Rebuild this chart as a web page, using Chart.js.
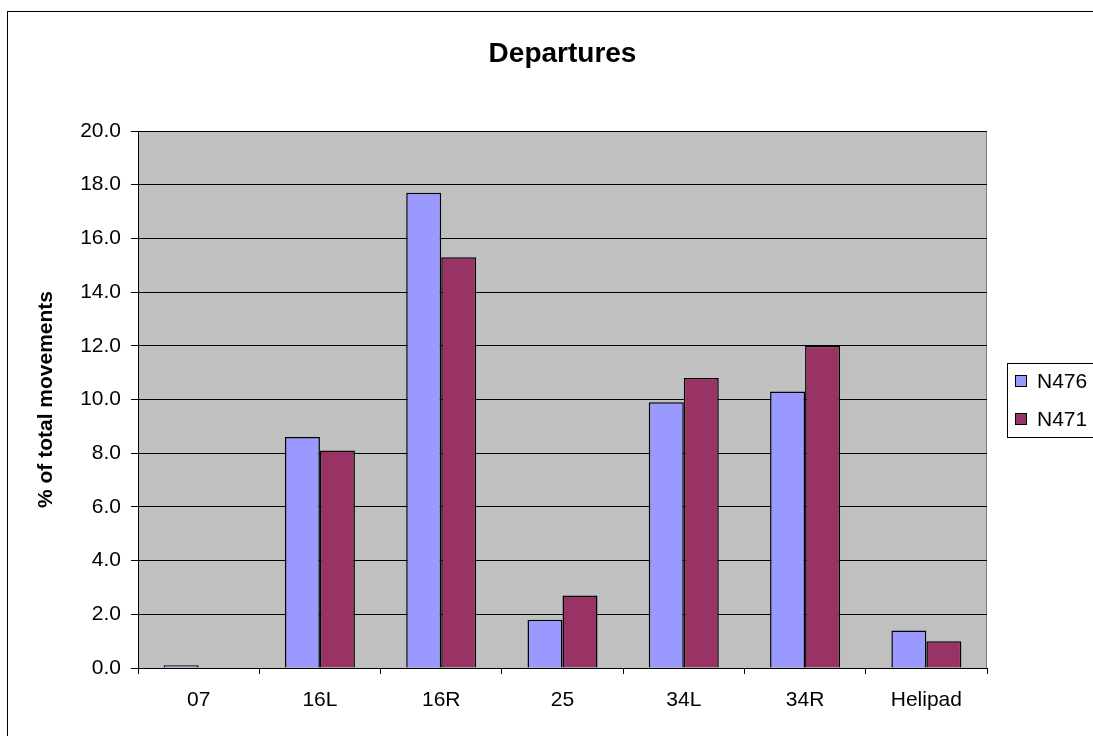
<!DOCTYPE html>
<html>
<head>
<meta charset="utf-8">
<script src="https://cdn.jsdelivr.net/npm/chart.js@4/dist/chart.umd.min.js"></script>
<style>
  html, body { margin: 0; padding: 0; background: #fff; overflow: hidden; }
  #wrap { width: 1093px; height: 736px; position: relative; }
</style>
</head>
<body>
<div id="wrap"><canvas id="chart" width="1093" height="736"></canvas></div>
<script>
// datos
const categories = ['07', '16L', '16R', '25', '34L', '34R', 'Helipad'];
const n476 = [0.1, 8.6, 17.7, 1.8, 9.9, 10.3, 1.4];
const n471 = [0, 8.1, 15.3, 2.7, 10.8, 12.0, 1.0];
const yTicks = { min: 0, max: 20, step: 2 };
const chartTitle = 'Departures';

const FONT = "'Liberation Sans', Arial, sans-serif";

// fondo gris del área de trazado, marco exterior, título centrado y leyenda con recuadro
const excelLook = {
    id: 'excelLook',
    beforeDraw(chart) {
        const { ctx, chartArea: a } = chart;
        ctx.save();
        ctx.fillStyle = '#fff';
        ctx.fillRect(0, 0, chart.width, chart.height);
        ctx.strokeStyle = '#000';
        ctx.lineWidth = 1;
        ctx.strokeRect(7.5, 11.5, 2000, 2000);
        ctx.fillStyle = '#C0C0C0';
        ctx.fillRect(a.left, a.top, a.right - a.left, a.bottom - a.top);
        ctx.strokeStyle = '#808080';
        ctx.strokeRect(a.left + 0.5, a.top + 0.5, a.right - a.left - 1, a.bottom - a.top);
        ctx.restore();
    },
    afterDraw(chart) {
        const { ctx, chartArea: a } = chart;
        ctx.save();
        // título
        ctx.fillStyle = '#000';
        ctx.font = 'bold 28px ' + FONT;
        ctx.textAlign = 'center';
        ctx.textBaseline = 'middle';
        ctx.fillText(chartTitle, (a.left + a.right) / 2, 54);
        // leyenda
        ctx.textAlign = 'left';
        ctx.strokeStyle = '#000';
        ctx.lineWidth = 1;
        ctx.strokeRect(1007.5, 363.5, 200, 74);
        ctx.font = '21px ' + FONT;
        chart.data.datasets.forEach((ds, i) => {
            const y = 381 + i * 38;
            ctx.fillStyle = ds.backgroundColor;
            ctx.fillRect(1015.5, y - 5.5, 11, 11);
            ctx.strokeRect(1015.5, y - 5.5, 11, 11);
            ctx.fillStyle = '#000';
            ctx.fillText(ds.label, 1037, y + 1);
        });
        ctx.restore();
    }
};

new Chart(document.getElementById('chart'), {
    type: 'bar',
    data: {
        labels: categories,
        datasets: [
            { label: 'N476', data: n476, backgroundColor: '#9999FF', borderColor: '#000', borderWidth: 1.5 },
            { label: 'N471', data: n471, backgroundColor: '#993366', borderColor: '#000', borderWidth: 1.5 }
        ]
    },
    options: {
        responsive: false,
        animation: false,
        devicePixelRatio: 1,
        layout: { padding: { left: 0, right: 106, top: 131, bottom: 0 } },
        datasets: { bar: { categoryPercentage: 0.577, barPercentage: 1 } },
        plugins: {
            legend: { display: false },
            tooltip: { enabled: false },
            title: { display: false }
        },
        scales: {
            x: {
                grid: { drawOnChartArea: false, color: '#000', tickLength: 6, offset: true },
                border: { color: '#000' },
                ticks: { color: '#000', font: { family: FONT, size: 21 }, padding: 14, maxRotation: 0 },
                afterFit(s) { s.height = 68; }
            },
            y: {
                min: yTicks.min,
                max: yTicks.max,
                grid: { color: '#000', tickLength: 7 },
                border: { color: '#000' },
                ticks: {
                    stepSize: yTicks.step,
                    color: '#000',
                    font: { family: FONT, size: 21 },
                    padding: 10,
                    callback: v => v.toFixed(1)
                },
                title: {
                    display: true,
                    text: '% of total movements',
                    color: '#000',
                    font: { family: FONT, size: 21, weight: 'bold' },
                    padding: { top: 34, bottom: 0 }
                },
                afterFit(s) { s.width = 138; }
            }
        }
    },
    plugins: [excelLook]
});
</script>
</body>
</html>
